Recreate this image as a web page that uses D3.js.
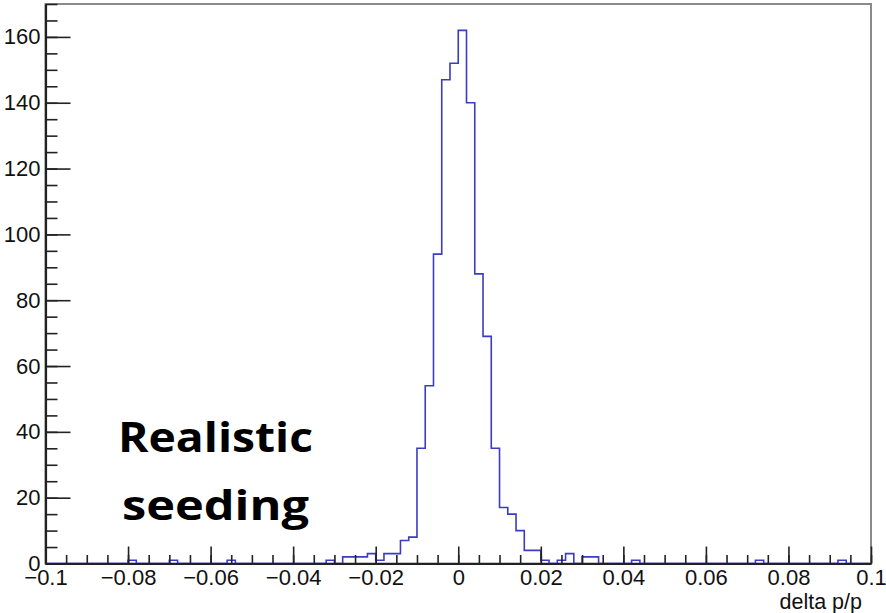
<!DOCTYPE html>
<html>
<head>
<meta charset="utf-8">
<script src="https://cdn.jsdelivr.net/npm/d3@7"></script>
<style>
  body { margin: 0; background: #fff; }
  svg { display: block; }
  .tick text { font-family: "Liberation Sans", Arial, sans-serif; font-size: 22px; fill: #111; }
</style>
</head>
<body>
<svg width="886" height="613"></svg>
<script>
// histogram of delta p/p, 100 bins from -0.1 to 0.1
var X_MIN = -0.1, X_MAX = 0.1, BIN_W = 0.002;
var counts = [
  0, 0, 0, 0, 0, 0, 0, 0, 0, 0,
  1, 0, 0, 0, 0, 1, 0, 0, 0, 0,
  0, 0, 1, 0, 0, 0, 0, 0, 0, 0,
  0, 0, 0, 0, 1, 0, 2, 2, 2, 3,
  1, 3, 3, 7, 8, 35, 54, 94, 147, 152,
  162, 140, 88, 69, 35, 17, 15, 10, 4, 4,
  1, 0, 1, 3, 0, 2, 2, 0, 0, 0,
  0, 1, 0, 0, 0, 0, 0, 0, 0, 0,
  0, 0, 0, 0, 0, 0, 1, 0, 0, 0,
  0, 0, 0, 0, 0, 0, 1, 0, 0, 0
];
var xTicks = [-0.1, -0.08, -0.06, -0.04, -0.02, 0, 0.02, 0.04, 0.06, 0.08, 0.1];
var yTicks = [0, 20, 40, 60, 80, 100, 120, 140, 160];
var Y_MAX = 170;
var xTitle = "delta p/p";
var labelLines = ["Realistic", "seeding"];

var svg = d3.select("svg");
var MARGIN = {top: 4, right: 15, bottom: 49.5, left: 45.5};
var WIDTH = +svg.attr("width") - MARGIN.left - MARGIN.right;
var HEIGHT = +svg.attr("height") - MARGIN.top - MARGIN.bottom;

var g = svg.append("g")
    .attr("transform", "translate(" + MARGIN.left + "," + MARGIN.top + ")");

var x = d3.scaleLinear().domain([X_MIN, X_MAX]).range([0, WIDTH]);
var y = d3.scaleLinear().domain([0, Y_MAX]).range([HEIGHT, 0]);

// frame (top / right)
g.append("rect")
    .attr("width", WIDTH)
    .attr("height", HEIGHT)
    .attr("fill", "none")
    .attr("stroke", "#8a8a8a")
    .attr("stroke-width", 2);

// histogram outline
var pts = [{x: X_MIN, v: 0}];
counts.forEach(function(c, i) { pts.push({x: X_MIN + i * BIN_W, v: c}); });
pts.push({x: X_MAX, v: counts[counts.length - 1]});
pts.push({x: X_MAX, v: 0});

var line = d3.line()
    .curve(d3.curveStepAfter)
    .x(d => x(d.x))
    .y(d => y(d.v));

g.append("path")
    .datum(pts)
    .attr("fill", "none")
    .attr("stroke", "#3b3bc4")
    .attr("stroke-width", 1.6)
    .attr("d", line);

// minor ticks
var xMinor = d3.range(0, 41).map(i => X_MIN + i * 0.005);
var yMinor = d3.range(0, 35).map(i => i * 5);

g.append("g")
    .attr("transform", "translate(0," + HEIGHT + ")")
    .call(d3.axisBottom(x).tickValues(xMinor).tickSize(-8.5).tickFormat(""))
    .call(a => a.select(".domain").remove())
    .selectAll("line").attr("stroke", "#222").attr("stroke-width", 1.6);

g.append("g")
    .call(d3.axisLeft(y).tickValues(yMinor).tickSize(-12).tickFormat(""))
    .call(a => a.select(".domain").remove())
    .selectAll("line").attr("stroke", "#222").attr("stroke-width", 1.6);

// major axes
var fmt = d => d === 0 ? "0" : d3.format("~g")(+d.toFixed(3));

var xAxis = g.append("g")
    .attr("transform", "translate(0," + HEIGHT + ")")
    .call(d3.axisBottom(x).tickValues(xTicks).tickSize(-17).tickSizeOuter(0).tickPadding(6).tickFormat(fmt));
xAxis.select(".domain").attr("stroke", "#222").attr("stroke-width", 2.2);
xAxis.selectAll("line").attr("stroke", "#222").attr("stroke-width", 1.6);

var yAxis = g.append("g")
    .call(d3.axisLeft(y).tickValues(yTicks).tickSize(-25).tickSizeOuter(0).tickPadding(5));
yAxis.select(".domain").attr("stroke", "#222").attr("stroke-width", 2.2);
yAxis.selectAll("line").attr("stroke", "#222").attr("stroke-width", 1.6);

// axis title
g.append("text")
    .attr("x", x(X_MAX) - 9)
    .attr("y", HEIGHT + 45)
    .attr("text-anchor", "end")
    .attr("font-family", "Liberation Sans, Arial, sans-serif")
    .attr("font-size", 21.5)
    .attr("fill", "#111")
    .text(xTitle);

// overlay label
var lab = svg.append("text")
    .attr("text-anchor", "middle")
    .attr("font-family", "'Open Sans', sans-serif")
    .attr("font-weight", 700)
    .attr("font-size", 41)
    .attr("fill", "#000");
var labWidths = [195, 187];
labelLines.forEach(function(t, i) {
  lab.append("tspan")
      .attr("x", 215.5)
      .attr("y", 452 + i * 68)
      .attr("textLength", labWidths[i])
      .attr("lengthAdjust", "spacingAndGlyphs")
      .text(t);
});
</script>
</body>
</html>
